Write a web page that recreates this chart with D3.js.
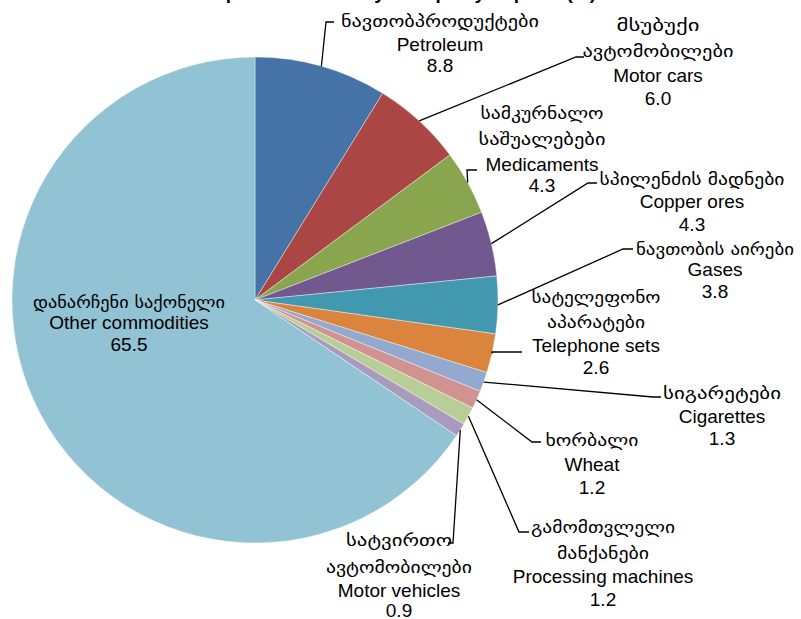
<!DOCTYPE html>
<html><head><meta charset="utf-8">
<script src="https://cdn.jsdelivr.net/npm/d3@7"></script>
<style>
html,body{margin:0;padding:0;background:#fff;}
svg{display:block;}
</style></head>
<body>
<svg id="chart" width="801" height="619"></svg>
<script>
// ---- data ----
const categoriesEn = ["Petroleum","Motor cars","Medicaments","Copper ores","Gases","Telephone sets","Cigarettes","Wheat","Processing machines","Motor vehicles","Other commodities"];
const categoriesKa = [
  ["ნავთობპროდუქტები"],
  ["მსუბუქი","ავტომობილები"],
  ["სამკურნალო","საშუალებები"],
  ["სპილენძის მადნები"],
  ["ნავთობის აირები"],
  ["სატელეფონო","აპარატები"],
  ["სიგარეტები"],
  ["ხორბალი"],
  ["გამომთვლელი","მანქანები"],
  ["სატვირთო","ავტომობილები"],
  ["დანარჩენი საქონელი"]
];
const values = [8.8, 6.0, 4.3, 4.3, 3.8, 2.6, 1.3, 1.2, 1.2, 0.9, 65.5];
const valueLabels = ["8.8","6.0","4.3","4.3","3.8","2.6","1.3","1.2","1.2","0.9","65.5"];
const titleText = "Top Ten Commodity Groups by Exports (%)";

// ---- styles / layout ----
const colors = ["#4572A7","#AA4643","#89A54E","#71588F","#4198AF","#DB843D","#93A9CF","#D19392","#B9CD96","#A99BBD","#92C3D5"];
const cx0 = 255, cy0 = 300, R = 243;
// label layout: centre x, baselines per line, Georgian line widths, leader elbow [x,y,endX]
const labelLayout = [
  {cx:440, ys:[27,51,72],          kw:[198],      leader:[326,22,334]},
  {cx:658, ys:[31,57,82,105],      kw:[83,151],   leader:[576,57,584]},
  {cx:542, ys:[119,145,171,192],   kw:[123,127],  leader:[467,170,477]},
  {cx:692, ys:[185,208,231],       kw:[185],      leader:[588,183,597]},
  {cx:715, ys:[255,276,298],       kw:[158],      leader:[623,249,633]},
  {cx:596, ys:[303,328,352,374],   kw:[129,98],   leader:[492,352,522]},
  {cx:722, ys:[399,423,445],       kw:[118],      leader:[653,397,661]},
  {cx:592, ys:[446,471,494],       kw:[93],       leader:[532,442,541]},
  {cx:603, ys:[533,559,583,606],   kw:[144,92],   leader:[519,532,529]},
  {cx:399, ys:[546,573,597,617],   kw:[106,146],  leader:[453,543,448]},
  {cx:129, ys:[308,329,351],       kw:[192],      leader:null}
];

const svg = d3.select("#chart");
const data = values.map((v,i)=>({v, en:categoriesEn[i], ka:categoriesKa[i], lab:valueLabels[i], i}));

const pie = d3.pie().value(d=>d.v).sort(null).startAngle(0).endAngle(2*Math.PI);
const arcs = pie(data);
const arc = d3.arc().innerRadius(0).outerRadius(R);
const edge = d3.arc().innerRadius(R).outerRadius(R);

const g = svg.append("g").attr("transform",`translate(${cx0},${cy0})`);
g.selectAll("path.slice").data(arcs).enter().append("path")
  .attr("class","slice")
  .attr("d",arc)
  .attr("fill",(d,i)=>colors[i])
  .attr("stroke","#fff").attr("stroke-width",0.4);

// leader lines
arcs.forEach((a,i)=>{
  const L = labelLayout[i].leader;
  if(!L) return;
  const p = edge.centroid(a);
  const pts = [[p[0]+cx0,p[1]+cy0],[L[0],L[1]],[L[2],L[1]]];
  svg.append("path")
    .attr("d",d3.line()(pts))
    .attr("fill","none").attr("stroke","#000").attr("stroke-width",1.3);
});

// labels
arcs.forEach((a,i)=>{
  const lay = labelLayout[i];
  const d = a.data;
  const lines = [];
  d.ka.forEach((t,k)=>lines.push({t, ka:true, w:lay.kw[k]}));
  lines.push({t:d.en, ka:false});
  lines.push({t:d.lab, ka:false});
  lines.forEach((ln,k)=>{
    const t = svg.append("text")
      .attr("x",lay.cx).attr("y",lay.ys[k])
      .attr("text-anchor","middle")
      .attr("fill","#000")
      .text(ln.t);
    if(ln.ka){
      t.attr("font-family","'DejaVu Sans', sans-serif").attr("font-size",17)
       .attr("textLength",ln.w).attr("lengthAdjust","spacingAndGlyphs");
    } else {
      t.attr("font-family","'Liberation Sans', Arial, sans-serif").attr("font-size",19);
    }
  });
});

// title (mostly cut off at the top edge)
svg.append("text").attr("x",400).attr("y",-1.5).attr("text-anchor","middle")
  .attr("font-family","'Liberation Sans', Arial, sans-serif").attr("font-size",19).attr("font-weight","bold")
  .text(titleText);
</script>
</body></html>
